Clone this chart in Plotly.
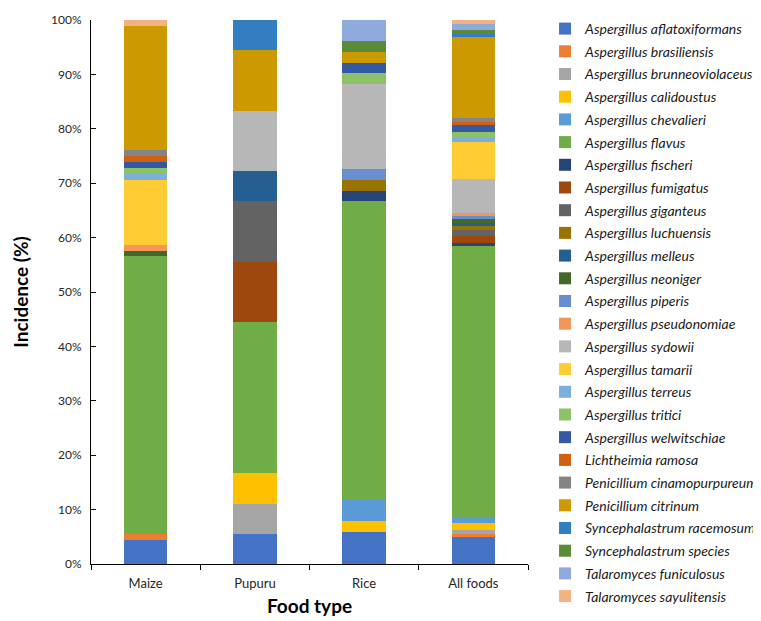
import plotly.graph_objects as go

food_types = ["Maize", "Pupuru", "Rice", "All foods"]

species = [
    "Aspergillus aflatoxiformans", "Aspergillus brasiliensis", "Aspergillus brunneoviolaceus",
    "Aspergillus calidoustus", "Aspergillus chevalieri", "Aspergillus flavus",
    "Aspergillus fischeri", "Aspergillus fumigatus", "Aspergillus giganteus",
    "Aspergillus luchuensis", "Aspergillus melleus", "Aspergillus neoniger",
    "Aspergillus piperis", "Aspergillus pseudonomiae", "Aspergillus sydowii",
    "Aspergillus tamarii", "Aspergillus terreus", "Aspergillus tritici",
    "Aspergillus welwitschiae", "Lichtheimia ramosa", "Penicillium cinamopurpureum",
    "Penicillium citrinum", "Syncephalastrum racemosum", "Syncephalastrum species",
    "Talaromyces funiculosus", "Talaromyces sayulitensis",
]

# Incidence (%) per food type: Maize, Pupuru, Rice, All foods
aflatoxiformans = [4.35, 5.56, 5.88, 4.97]
brasiliensis = [1.09, 0, 0, 0.62]
brunneoviolaceus = [0, 5.56, 0, 0.62]
calidoustus = [0, 5.56, 1.96, 1.24]
chevalieri = [0, 0, 3.92, 1.24]
flavus = [51.09, 27.78, 54.90, 49.69]
fischeri = [0, 0, 1.96, 0.62]
fumigatus = [0, 11.11, 0, 1.24]
giganteus = [0, 11.11, 0, 1.24]
luchuensis = [0, 0, 1.96, 0.62]
melleus = [0, 5.56, 0, 0.62]
neoniger = [1.09, 0, 0, 0.62]
piperis = [0, 0, 1.96, 0.62]
pseudonomiae = [1.09, 0, 0, 0.62]
sydowii = [0, 11.11, 15.69, 6.21]
tamarii = [11.96, 0, 0, 6.83]
terreus = [1.09, 0, 0, 0.62]
tritici = [1.09, 0, 1.96, 1.24]
welwitschiae = [1.09, 0, 1.96, 1.24]
lichtheimia_ramosa = [1.09, 0, 0, 0.62]
cinamopurpureum = [1.09, 0, 0, 0.62]
citrinum = [22.83, 11.11, 1.96, 14.91]
racemosum = [0, 5.56, 0, 0.62]
syncephalastrum_species = [0, 0, 1.96, 0.62]
funiculosus = [0, 0, 3.92, 1.24]
sayulitensis = [1.09, 0, 0, 0.62]

series_values = [
    aflatoxiformans, brasiliensis, brunneoviolaceus, calidoustus, chevalieri, flavus,
    fischeri, fumigatus, giganteus, luchuensis, melleus, neoniger,
    piperis, pseudonomiae, sydowii, tamarii, terreus, tritici,
    welwitschiae, lichtheimia_ramosa, cinamopurpureum, citrinum, racemosum,
    syncephalastrum_species, funiculosus, sayulitensis,
]

colors = [
    "#4472C4", "#ED7D31", "#A5A5A5", "#FFC000", "#5B9BD5", "#70AD47",
    "#264478", "#9E480E", "#636363", "#997300", "#255E91", "#43682B",
    "#698ED0", "#F1975A", "#B7B7B7", "#FFCD33", "#7CAFDD", "#8CC168",
    "#3259A1", "#D35F12", "#848484", "#CC9900", "#327EC1", "#5B8A38",
    "#8FAADC", "#F4B183",
]

fig = go.Figure()
for i, (name, vals) in enumerate(zip(species, series_values)):
    fig.add_trace(go.Bar(
        x=food_types, y=vals, name=name, legendgroup=f"g{i}",
        marker=dict(color=colors[i], line=dict(width=0)),
        hovertemplate="%{x}: %{y:.2f}%<extra>" + name + "</extra>",
    ))

fig.update_layout(
    barmode="stack",
    bargap=0.6,
    width=753, height=613,
    margin=dict(l=83, r=233, t=12, b=57, autoexpand=False),
    plot_bgcolor="white", paper_bgcolor="white",
    font=dict(family="Lato, Liberation Sans, sans-serif", size=13, color="#262626"),
    showlegend=True,
    legend=dict(
        x=1.039, xanchor="left", y=1.0129, yanchor="top",
        traceorder="grouped", tracegroupgap=1.5, maxheight=613,
        font=dict(family="Lato, Liberation Sans, sans-serif", size=14, color="#1a1a1a", style="italic"),
        itemwidth=30, bgcolor="rgba(0,0,0,0)",
    ),
    xaxis=dict(
        automargin=False,
        showline=True, linecolor="black", linewidth=1,
        ticks="outside", ticklen=5, tickcolor="black", tickson="boundaries",
        ticklabelstandoff=7,
        title=dict(text="<b>Food type</b>", font=dict(size=19, color="black"), standoff=10),
        tickfont=dict(size=13, color="#262626"),
    ),
    yaxis=dict(
        automargin=False,
        range=[0, 100], dtick=10, ticksuffix="%",
        showline=True, linecolor="black", linewidth=1,
        ticks="inside", ticklen=5, tickcolor="black", ticklabelstandoff=6,
        showgrid=False, zeroline=False,
        title=dict(text="<b>Incidence (%)</b>", font=dict(size=19, color="black"), standoff=17),
        tickfont=dict(size=12, color="#262626"),
    ),
)

fig.write_html("out.html")
